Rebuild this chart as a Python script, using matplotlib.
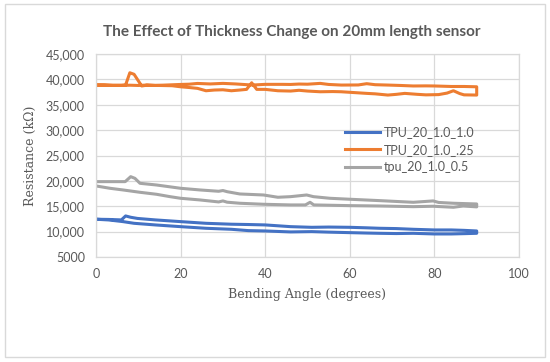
import matplotlib
matplotlib.use("Agg")
import matplotlib.pyplot as plt
from matplotlib.patches import Rectangle

# ---------------- data ----------------
title = "The Effect of Thickness Change on 20mm length sensor"
xlabel = "Bending Angle (degrees)"
ylabel = "Resistance (kΩ)"
series_names = ["TPU_20_1.0_1.0", "TPU_20_1.0_.25", "tpu_20_1.0_0.5"]
series_colors = ["#4472C4", "#ED7D31", "#A5A5A5"]

xticks = [0, 20, 40, 60, 80, 100]
yticks = [5000, 10000, 15000, 20000, 25000, 30000, 35000, 40000, 45000]
ytick_labels = ["5000", "10,000", "15,000", "20,000", "25,000", "30,000",
                "35,000", "40,000", "45,000"]

# TPU_20_1.0_1.0 (blue) : loading 0->90 then unloading 90->0
blue_angle = [0, 3, 6, 7, 8.2, 9.8, 14, 20, 26, 32, 36, 40, 46, 51, 55, 60, 64, 67,
              71, 75, 80, 84, 87, 90,
              90, 87, 84, 80, 75, 71, 67, 64, 60, 55, 51, 46, 40, 36, 32, 26, 20,
              14, 9, 6.4, 3, 0]
blue_res = [12440, 12400, 12310, 13090, 12830, 12600, 12310, 11970, 11640, 11460,
            11400, 11320, 10980, 10850, 10900, 10850, 10750, 10660, 10600, 10460,
            10330, 10330, 10250, 10130,
            9670, 9600, 9540, 9540, 9670, 9620, 9670, 9720, 9800, 9900, 10000,
            9940, 10130, 10200, 10460, 10660, 10980, 11320, 11640, 11970, 12300,
            12440]

# TPU_20_1.0_.25 (orange)
orange_angle = [0, 2, 4, 6, 7, 8, 9, 10.8, 12, 15, 18, 20, 22, 24, 26, 28, 30, 32,
                34, 35.6, 36.8, 38, 40, 43, 46, 48, 50, 53, 56, 58, 61, 64, 66, 69,
                71, 73, 76, 78, 81, 83, 84.5, 86, 87, 90,
                90, 87, 84, 80, 78, 75, 72, 69, 66, 64, 62, 58, 55, 53, 50, 48, 46,
                44, 40, 37, 33, 30, 27, 24, 22, 20, 17, 14, 12, 10, 8, 6, 4, 2, 0]
orange_res = [38880, 38850, 38800, 38850, 38900, 41300, 41000, 38700, 38850, 38800,
              38750, 38540, 38400, 38230, 37760, 37900, 37950, 37760, 37900, 38030,
              39330, 38030, 38030, 37760, 37700, 37850, 37700, 37560, 37600, 37560,
              37400, 37240, 37150, 36910, 37050, 37240, 37050, 36950, 37000, 37300,
              37760, 37200, 36950, 36910,
              38540, 38600, 38600, 38700, 38720, 38700, 38800, 38880, 38950, 39150,
              38900, 38880, 39000, 39210, 39050, 39080, 39000, 39020, 39020, 38880,
              39100, 39210, 39100, 39200, 39050, 39000, 38900, 38800, 38880, 38800,
              38850, 38800, 38850, 38900, 38880]

# tpu_20_1.0_0.5 (gray)
gray_angle = [0, 3, 6.9, 8.2, 9.2, 10.4, 14.3, 20, 24.6, 29, 30, 31, 34, 39.6, 43,
              46, 49.8, 51.4, 55.3, 60, 67, 75, 79.7, 81, 84.5, 90,
              90, 86.8, 84.5, 79.7, 75, 67, 60, 51.5, 50.6, 49.5, 46, 39.6, 34, 31,
              30, 29, 24.6, 20, 17.5, 14.3, 10.4, 6.4, 3.3, 0]
gray_res = [19850, 19850, 19850, 20830, 20500, 19520, 19190, 18540, 18210, 17950,
            18100, 17870, 17420, 17220, 16770, 16890, 17220, 16890, 16570, 16380,
            16110, 15780, 16050, 15750, 15590, 15450,
            14880, 15050, 14800, 15000, 14920, 15050, 15120, 15260, 15780, 15260,
            15260, 15390, 15590, 15800, 16050, 15850, 16240, 16570, 16890, 17360,
            17750, 18210, 18540, 19000]

# ---------------- figure ----------------
W, H = 550, 362
fig = plt.figure(figsize=(W / 100, H / 100), dpi=100)
fig.patch.set_facecolor("white")

# outer chart border
fig.add_artist(Rectangle((5 / W, 1 - 357 / H), 540 / W, 353 / H,
                         transform=fig.transFigure, fill=False,
                         edgecolor="#d9d9d9", linewidth=1.0))

left, right, top, bottom = 96, 519, 54, 257
ax = fig.add_axes([left / W, 1 - bottom / H, (right - left) / W, (bottom - top) / H])

for ang, res, name, col in zip([blue_angle, orange_angle, gray_angle],
                               [blue_res, orange_res, gray_res],
                               series_names, series_colors):
    ax.plot(ang, res, color=col, lw=2.2, label=name, solid_joinstyle="round")

ax.set_xlim(0, 100)
ax.set_ylim(5000, 45000)
ax.set_xticks(xticks)
ax.set_xticklabels([str(t) for t in xticks])
ax.set_yticks(yticks)
ax.set_yticklabels(ytick_labels)
ax.grid(True, color="#d9d9d9", lw=0.9)
ax.set_axisbelow(True)
for s in ax.spines.values():
    s.set_color("#d9d9d9")
    s.set_linewidth(0.9)
ax.tick_params(length=0, labelsize=9, labelcolor="#595959", pad=8)
for lab in ax.get_xticklabels() + ax.get_yticklabels():
    lab.set_fontfamily("Lato")

ax.set_xlabel(xlabel, fontfamily="DejaVu Serif", fontsize=9, color="#595959",
              labelpad=6)
ax.set_ylabel(ylabel, fontfamily="DejaVu Serif", fontsize=9, color="#595959",
              labelpad=6)

fig.text(292 / W, 1 - 32 / H, title, ha="center", va="center",
         fontfamily="Lato", fontweight="bold", fontsize=11, color="#595959")

leg = ax.legend(loc="upper left", bbox_to_anchor=((345 - left) / (right - left),
                                                   (bottom - 126) / (bottom - top)),
                frameon=False, borderpad=0, borderaxespad=0, handlelength=2.8,
                handletextpad=0.3, labelspacing=0.45,
                prop={"family": "Lato", "size": 9})
for t in leg.get_texts():
    t.set_color("#595959")

fig.savefig("out.png", dpi=100)
